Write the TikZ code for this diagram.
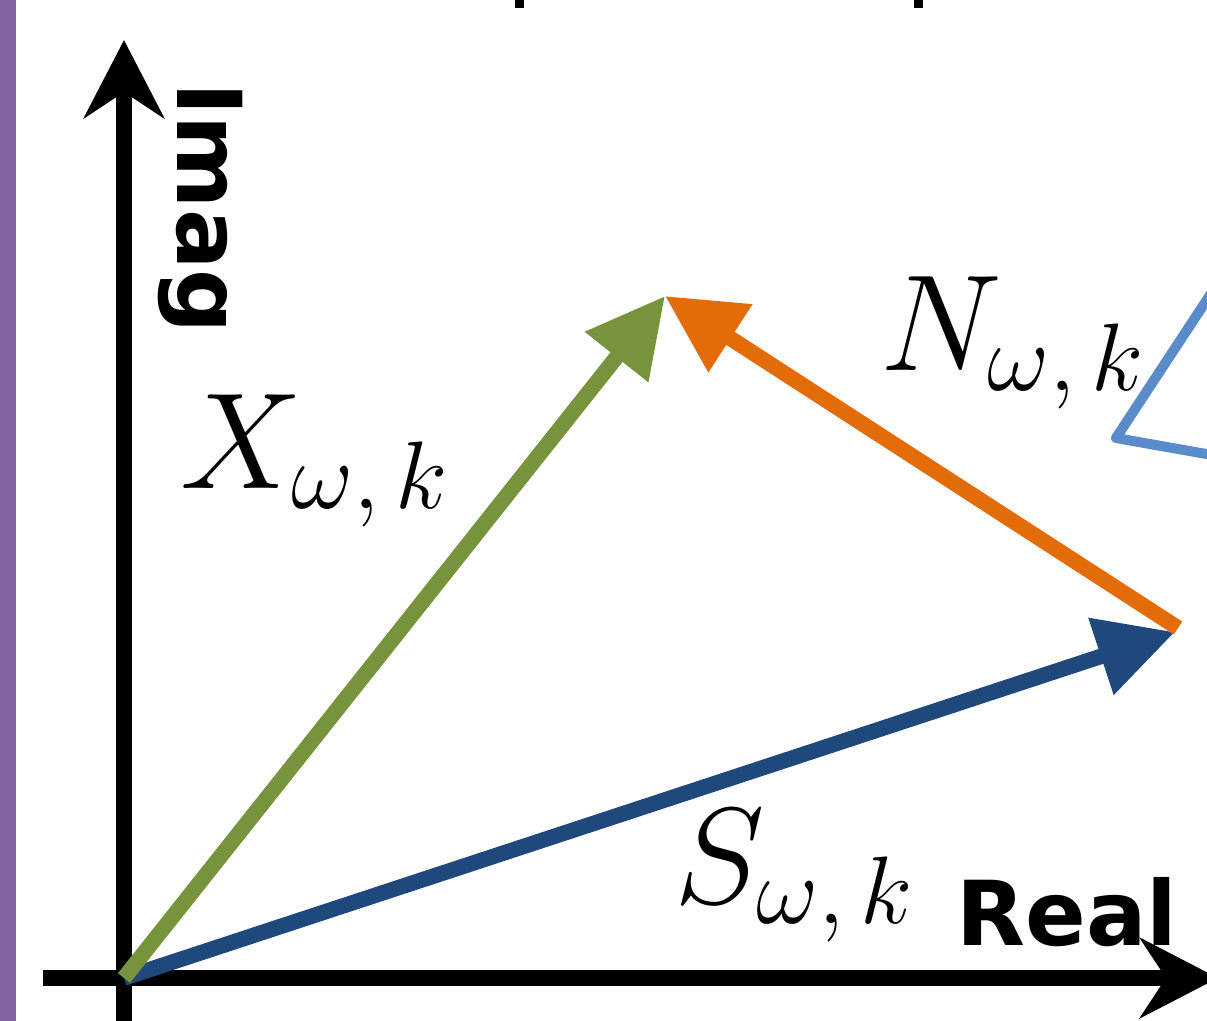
\RequirePackage{fix-cm}
\documentclass[tikz,border=0pt]{standalone}
\usepackage{fontspec}
\setsansfont{DejaVu Sans}
\usepackage{tikz}
\usetikzlibrary{arrows.meta}

\definecolor{barpurple}{HTML}{8064A2}
\definecolor{vecgreen}{HTML}{77933C}
\definecolor{vecorange}{HTML}{E36C09}
\definecolor{vecblue}{HTML}{1F497D}
\definecolor{anglblue}{HTML}{5A8BCB}

\begin{document}
\begin{tikzpicture}[
  x=0.02cm,y=-0.02cm,
  axis/.style={line width=0.32cm,-{Stealth[length=1.56cm,width=1.6cm,inset=0.52cm]}},
  vec/.style={line width=0.31cm,-{Triangle[length=1.56cm,width=1.54cm]}},
  axlbl/.style={font=\fontsize{51}{60}\selectfont\sffamily\bfseries,inner sep=0pt},
  mlbl/.style={font=\fontsize{78}{90}\selectfont,inner sep=0pt,anchor=base west}
]
\useasboundingbox (0,0) rectangle (1207,1021);
\clip (0,0) rectangle (1207,1021);
\fill[barpurple] (0,0) rectangle (16,1021);
\fill (515,0) rectangle (524,8);
\fill (914,0) rectangle (923,8);

\coordinate (o) at (124,978);
\coordinate (ybot) at (124,1030);
\coordinate (ytop) at (124,40);
\coordinate (xleft) at (43,978);
\coordinate (xright) at (1218,978);
\coordinate (x) at (665,296);
\coordinate (s) at (1175,632);
\coordinate (n) at (1178,628);

\draw[axis] (ybot) -- (ytop);
\draw[axis] (xleft) -- (xright);
\draw[vec,vecblue] (o) -- (s);
\draw[vec,vecgreen] (o) -- (x);
\draw[vec,vecorange] (n) -- (x);
\draw[anglblue,line width=0.2cm,line join=round] (1212,292) -- (1116,438) -- (1212,455);

\node[axlbl,rotate=-90,anchor=base west] (imag) at (177,82) {Imag};
\node[axlbl,anchor=base west] (real) at (956,945) {Real};
\node[mlbl] (xl) at (180,488) {$X_{\omega,\,k}$};
\node[mlbl] (nl) at (880,370) {$N_{\omega,\,k}$};
\node[mlbl] (sl) at (674,903) {$S_{\omega,\,k}$};
\end{tikzpicture}
\end{document}
